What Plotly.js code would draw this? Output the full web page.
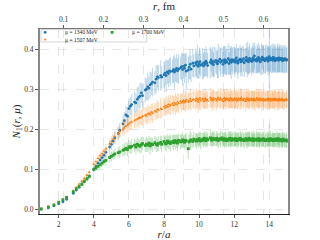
<!DOCTYPE html>
<html><head><meta charset="utf-8">
<script src="https://cdn.plot.ly/plotly-3.0.1.min.js"></script>
<style>html,body{margin:0;padding:0;background:#fff}#chart{width:320px;height:240px}</style>
</head><body><div id="chart"></div>
<script>
// r/a lattice distances
const rOverA = [
1.00,1.41,1.73,2.00,2.24,2.45,2.83,3.00,3.16,3.32,
3.46,3.61,3.74,4.00,4.12,4.24,4.36,4.47,4.58,4.69,
4.90,5.00,5.10,5.20,5.39,5.48,5.66,5.74,5.83,5.92,
6.00,6.08,6.16,6.32,6.40,6.48,6.56,6.63,6.71,6.78,
6.93,7.00,7.07,7.14,7.21,7.28,7.35,7.48,7.55,7.62,
7.68,7.81,7.87,8.00,8.06,8.12,8.19,8.25,8.31,8.37,
8.49,8.54,8.60,8.66,8.72,8.77,8.83,8.94,9.00,9.06,
9.11,9.17,9.22,9.27,9.38,9.43,9.49,9.54,9.64,9.70,
9.80,9.85,9.90,9.95,10.00,10.05,10.10,10.20,10.25,10.30,
10.34,10.39,10.44,10.49,10.63,10.68,10.72,10.77,10.82,10.86,
10.95,11.00,11.05,11.09,11.18,11.22,11.31,11.36,11.40,11.45,
11.49,11.53,11.58,11.66,11.70,11.75,11.79,11.83,11.87,11.92,
12.00,12.04,12.08,12.12,12.17,12.21,12.25,12.33,12.37,12.41,
12.45,12.53,12.57,12.65,12.69,12.73,12.77,12.81,12.85,12.88,
12.96,13.00,13.04,13.08,13.11,13.15,13.19,13.27,13.30,13.34,
13.38,13.42,13.45,13.49,13.56,13.60,13.64,13.67,13.75,13.78,
13.86,13.89,13.93,13.96,14.00,14.04,14.07,14.14,14.18,14.21,
14.25,14.28,14.32,14.35,14.42,14.46,14.49,14.53,14.56,14.59,
14.63,14.70,14.73,14.76,14.80,14.87,14.90,14.97,15.00];

const n1Mu1340 = [
0.002,0.005,0.010,0.015,0.020,0.026,0.041,0.049,0.056,0.063,
0.070,0.077,0.084,0.100,0.108,0.116,0.124,0.130,0.136,0.143,
0.156,0.163,0.171,0.179,0.190,0.198,0.214,0.222,0.236,0.233,
0.252,0.258,0.262,0.268,0.266,0.275,0.280,0.283,0.291,0.284,
0.298,0.300,0.306,0.303,0.311,0.314,0.318,0.316,0.325,0.331,
0.329,0.334,0.330,0.336,0.340,0.334,0.343,0.339,0.346,0.344,
0.345,0.349,0.343,0.348,0.352,0.346,0.350,0.353,0.356,0.349,
0.357,0.352,0.360,0.345,0.348,0.355,0.362,0.350,0.365,0.358,
0.366,0.361,0.368,0.357,0.363,0.369,0.360,0.364,0.358,0.366,
0.362,0.370,0.365,0.359,0.367,0.373,0.364,0.369,0.361,0.368,
0.372,0.366,0.363,0.370,0.375,0.367,0.371,0.362,0.369,0.374,
0.366,0.371,0.368,0.376,0.364,0.372,0.369,0.367,0.374,0.370,
0.373,0.367,0.371,0.378,0.369,0.365,0.372,0.375,0.368,0.373,
0.370,0.376,0.366,0.372,0.379,0.371,0.374,0.368,0.373,0.377,
0.371,0.369,0.375,0.378,0.372,0.383,0.374,0.370,0.376,0.373,
0.379,0.372,0.376,0.368,0.374,0.380,0.373,0.377,0.371,0.375,
0.378,0.374,0.370,0.376,0.381,0.373,0.377,0.375,0.372,0.379,
0.374,0.378,0.371,0.376,0.373,0.377,0.375,0.372,0.378,0.374,
0.376,0.373,0.377,0.371,0.375,0.373,0.376,0.372,0.374];
const err1340 = [
0.001,0.001,0.002,0.002,0.002,0.003,0.003,0.004,0.004,0.005,
0.005,0.006,0.006,0.007,0.008,0.008,0.009,0.010,0.011,0.012,
0.013,0.014,0.015,0.016,0.017,0.018,0.020,0.021,0.022,0.023,
0.025,0.022,0.026,0.028,0.024,0.030,0.027,0.032,0.026,0.029,
0.031,0.027,0.035,0.029,0.033,0.028,0.036,0.030,0.034,0.029,
0.032,0.038,0.028,0.033,0.030,0.041,0.029,0.034,0.031,0.036,
0.030,0.033,0.044,0.029,0.035,0.031,0.037,0.028,0.034,0.040,
0.031,0.036,0.029,0.045,0.033,0.030,0.038,0.032,0.035,0.029,
0.034,0.031,0.042,0.030,0.036,0.033,0.029,0.039,0.032,0.035,
0.030,0.037,0.033,0.031,0.040,0.029,0.034,0.036,0.031,0.038,
0.032,0.029,0.035,0.043,0.030,0.036,0.033,0.031,0.039,0.034,
0.030,0.036,0.032,0.038,0.029,0.035,0.033,0.041,0.030,0.034,
0.032,0.037,0.030,0.035,0.033,0.039,0.031,0.034,0.036,0.030,
0.038,0.032,0.035,0.030,0.036,0.033,0.045,0.031,0.034,0.037,
0.030,0.035,0.032,0.038,0.031,0.033,0.034,0.030,0.036,0.033,
0.037,0.031,0.034,0.032,0.039,0.030,0.035,0.033,0.031,0.036,
0.034,0.030,0.037,0.032,0.080,0.031,0.033,0.036,0.030,0.034,
0.032,0.035,0.030,0.034,0.031,0.036,0.033,0.030,0.035,0.032,
0.034,0.031,0.033,0.030,0.035,0.032,0.034,0.031,0.033];

const n1Mu1507 = [
0.003,0.007,0.013,0.019,0.025,0.031,0.047,0.056,0.064,0.071,
0.078,0.086,0.093,0.113,0.120,0.128,0.135,0.140,0.146,0.152,
0.164,0.170,0.176,0.182,0.190,0.195,0.200,0.204,0.208,0.211,
0.214,0.217,0.219,0.222,0.224,0.226,0.228,0.230,0.229,0.233,
0.236,0.234,0.238,0.240,0.237,0.243,0.241,0.246,0.244,0.250,
0.248,0.252,0.250,0.257,0.254,0.259,0.256,0.262,0.258,0.261,
0.264,0.260,0.266,0.263,0.262,0.268,0.265,0.270,0.266,0.269,
0.272,0.267,0.270,0.274,0.268,0.271,0.276,0.270,0.273,0.275,
0.271,0.277,0.273,0.269,0.275,0.278,0.272,0.276,0.274,0.270,
0.277,0.273,0.275,0.271,0.279,0.274,0.276,0.272,0.278,0.274,
0.276,0.271,0.275,0.279,0.273,0.277,0.274,0.270,0.276,0.278,
0.272,0.275,0.277,0.273,0.276,0.271,0.278,0.274,0.276,0.272,
0.275,0.278,0.273,0.276,0.271,0.274,0.277,0.273,0.276,0.279,
0.274,0.272,0.276,0.270,0.275,0.278,0.273,0.276,0.271,0.274,
0.277,0.273,0.275,0.272,0.276,0.274,0.271,0.275,0.278,0.273,
0.276,0.272,0.274,0.277,0.273,0.275,0.271,0.276,0.274,0.272,
0.275,0.273,0.277,0.272,0.274,0.276,0.271,0.275,0.273,0.276,
0.272,0.275,0.273,0.277,0.274,0.271,0.275,0.273,0.276,0.272,
0.274,0.276,0.272,0.275,0.273,0.271,0.274,0.276,0.273];
const err1507 = [
0.001,0.001,0.002,0.002,0.003,0.003,0.004,0.004,0.005,0.005,
0.006,0.006,0.007,0.008,0.008,0.009,0.010,0.010,0.011,0.012,
0.012,0.013,0.014,0.014,0.015,0.016,0.017,0.017,0.018,0.018,
0.019,0.017,0.020,0.018,0.021,0.019,0.022,0.018,0.020,0.023,
0.019,0.021,0.024,0.018,0.022,0.020,0.025,0.019,0.021,0.023,
0.020,0.026,0.019,0.022,0.021,0.024,0.019,0.023,0.020,0.025,
0.021,0.023,0.019,0.027,0.020,0.022,0.024,0.019,0.022,0.021,
0.024,0.020,0.026,0.021,0.023,0.019,0.025,0.022,0.020,0.024,
0.021,0.023,0.020,0.028,0.022,0.019,0.024,0.021,0.023,0.020,
0.025,0.021,0.022,0.019,0.024,0.020,0.023,0.026,0.021,0.022,
0.020,0.024,0.021,0.023,0.019,0.025,0.022,0.020,0.024,0.021,
0.023,0.019,0.025,0.021,0.022,0.020,0.024,0.021,0.023,0.020,
0.022,0.025,0.020,0.023,0.021,0.024,0.019,0.022,0.026,0.021,
0.023,0.020,0.022,0.025,0.021,0.023,0.020,0.024,0.021,0.022,
0.020,0.024,0.021,0.023,0.019,0.022,0.025,0.020,0.023,0.021,
0.024,0.020,0.022,0.021,0.025,0.019,0.023,0.021,0.022,0.020,
0.022,0.024,0.020,0.023,0.021,0.022,0.019,0.024,0.021,0.023,
0.020,0.022,0.024,0.021,0.019,0.023,0.021,0.025,0.020,0.022,
0.021,0.023,0.020,0.022,0.024,0.021,0.019,0.022,0.020];

const n1Mu1700 = [
0.002,0.007,0.012,0.019,0.025,0.031,0.045,0.052,0.058,0.064,
0.071,0.077,0.083,0.101,0.104,0.108,0.112,0.116,0.120,0.123,
0.130,0.133,0.136,0.139,0.142,0.144,0.148,0.150,0.153,0.150,
0.157,0.155,0.158,0.161,0.156,0.163,0.160,0.158,0.162,0.165,
0.160,0.163,0.161,0.166,0.159,0.164,0.162,0.167,0.163,0.161,
0.165,0.168,0.163,0.170,0.166,0.164,0.171,0.167,0.169,0.165,
0.170,0.167,0.172,0.168,0.171,0.166,0.173,0.169,0.171,0.174,
0.170,0.168,0.173,0.171,0.152,0.169,0.172,0.174,0.170,0.176,
0.173,0.171,0.175,0.172,0.177,0.174,0.171,0.176,0.173,0.178,
0.175,0.172,0.177,0.174,0.179,0.176,0.173,0.178,0.175,0.177,
0.174,0.178,0.175,0.172,0.177,0.175,0.179,0.174,0.176,0.173,
0.177,0.175,0.172,0.176,0.174,0.178,0.175,0.173,0.177,0.174,
0.176,0.173,0.177,0.175,0.172,0.176,0.174,0.178,0.175,0.173,
0.176,0.174,0.172,0.177,0.175,0.173,0.176,0.174,0.178,0.175,
0.173,0.176,0.174,0.177,0.172,0.175,0.174,0.176,0.173,0.175,
0.177,0.174,0.172,0.176,0.174,0.175,0.173,0.177,0.174,0.172,
0.175,0.173,0.176,0.174,0.172,0.175,0.177,0.173,0.175,0.174,
0.172,0.176,0.174,0.173,0.175,0.177,0.172,0.174,0.176,0.173,
0.175,0.173,0.171,0.174,0.176,0.173,0.172,0.174,0.171];
const err1700 = [
0.001,0.001,0.002,0.002,0.002,0.003,0.003,0.004,0.004,0.005,
0.005,0.006,0.006,0.007,0.008,0.009,0.010,0.010,0.011,0.012,
0.012,0.013,0.013,0.014,0.014,0.015,0.015,0.016,0.016,0.017,
0.017,0.015,0.018,0.016,0.019,0.017,0.016,0.018,0.020,0.017,
0.016,0.019,0.017,0.018,0.021,0.016,0.018,0.017,0.019,0.016,
0.018,0.017,0.020,0.016,0.018,0.019,0.017,0.016,0.018,0.020,
0.017,0.019,0.016,0.018,0.017,0.020,0.016,0.018,0.017,0.019,
0.016,0.018,0.017,0.019,0.025,0.017,0.024,0.018,0.016,0.019,
0.017,0.020,0.016,0.018,0.017,0.019,0.021,0.016,0.018,0.017,
0.019,0.016,0.018,0.017,0.020,0.016,0.018,0.019,0.017,0.018,
0.016,0.019,0.017,0.018,0.016,0.020,0.017,0.018,0.016,0.019,
0.017,0.018,0.016,0.019,0.017,0.018,0.020,0.016,0.018,0.017,
0.019,0.016,0.018,0.017,0.019,0.016,0.018,0.017,0.020,0.016,
0.018,0.017,0.019,0.016,0.018,0.020,0.017,0.018,0.016,0.019,
0.017,0.018,0.016,0.019,0.017,0.018,0.016,0.020,0.017,0.018,
0.016,0.019,0.017,0.018,0.016,0.019,0.017,0.018,0.020,0.016,
0.018,0.017,0.019,0.016,0.040,0.017,0.019,0.016,0.018,0.017,
0.019,0.016,0.018,0.017,0.019,0.016,0.018,0.017,0.016,0.019,
0.017,0.018,0.016,0.019,0.017,0.018,0.016,0.019,0.017];

const seriesNames = ['μ = 1340 MeV', 'μ = 1507 MeV', 'μ = 1700 MeV'];
const latticeSpacingFm = 0.0439;
const xTicks = [2, 4, 6, 8, 10, 12, 14];
const fmTicks = [0.1, 0.2, 0.3, 0.4, 0.5, 0.6];
const yTicks = [0.0, 0.1, 0.2, 0.3, 0.4];

const serif = '"Liberation Serif", "DejaVu Serif", serif';

function series(y, err, name, color, errColor, symbol, legendId) {
  return {
    type: 'scatter', mode: 'markers', x: rOverA, y: y, name: name,
    xaxis: 'x', yaxis: 'y', legend: legendId,
    marker: {color: color, size: 2.8, symbol: symbol, line: {width: 0}},
    error_y: {type: 'data', array: err, visible: true, color: errColor, thickness: 1.1, width: 0},
    hoverinfo: 'skip'
  };
}

const traces = [
  series(n1Mu1340, err1340, seriesNames[0], '#1f77b4', 'rgba(31,119,180,0.28)', 'circle', 'legend'),
  series(n1Mu1507, err1507, seriesNames[1], '#ff7f0e', 'rgba(255,127,14,0.28)', 'triangle-up', 'legend3'),
  series(n1Mu1700, err1700, seriesNames[2], '#2ca02c', 'rgba(44,160,44,0.28)', 'square', 'legend2'),
  {type: 'scatter', mode: 'none', x: rOverA.map(r => r * latticeSpacingFm), y: n1Mu1340,
   xaxis: 'x2', yaxis: 'y', showlegend: false, hoverinfo: 'skip'}
];

const tickCommon = {ticks: 'outside', ticklen: 3, tickwidth: 0.8, tickcolor: '#333',
  showgrid: true, gridcolor: '#dcdcdc', griddash: 'dash', gridwidth: 0.7, zeroline: false,
  tickfont: {size: 7.5, color: '#333', family: serif}};

const legendCommon = {xanchor: 'left', yanchor: 'middle', bgcolor: 'rgba(0,0,0,0)', borderwidth: 0,
  font: {size: 5.5, family: serif, color: '#222'}, itemwidth: 30, orientation: 'v'};

const layout = {
  width: 320, height: 240,
  margin: {l: 40, r: 32, t: 29, b: 26, pad: 0},
  paper_bgcolor: '#fff', plot_bgcolor: '#fff',
  font: {family: serif, size: 8, color: '#222'},
  showlegend: true,
  xaxis: Object.assign({}, tickCommon, {
    range: [0.934, 15.066], tickvals: xTicks, showline: true, linecolor: '#222', linewidth: 1.2,
    title: {text: '<i>r</i>/<i>a</i>', font: {size: 11, family: serif, color: '#222'}, standoff: 3}
  }),
  xaxis2: Object.assign({}, tickCommon, {
    overlaying: 'x', side: 'top', anchor: 'y',
    range: [0.934 * latticeSpacingFm, 15.066 * latticeSpacingFm], tickvals: fmTicks, tickformat: '.1f',
    showline: true, linecolor: '#777', linewidth: 1.5,
    title: {text: '<i>r</i>, fm', font: {size: 11, family: serif, color: '#222'}, standoff: 3}
  }),
  yaxis: Object.assign({}, tickCommon, {
    range: [-0.0105, 0.45], tickvals: yTicks, tickformat: '.1f',
    showline: true, mirror: true, linecolor: '#888', linewidth: 2,
    title: {text: '<i>N</i><sub>1</sub>(<i>r</i>, <i>μ</i>)', font: {size: 11, family: serif, color: '#222'}, standoff: 0}
  }),
  legend: Object.assign({}, legendCommon, {x: -0.06, y: 0.982}),
  legend3: Object.assign({}, legendCommon, {x: -0.06, y: 0.943}),
  legend2: Object.assign({}, legendCommon, {x: 0.21, y: 0.982}),
  shapes: [{type: 'rect', xref: 'paper', yref: 'paper', x0: 0.004, x1: 0.43, y0: 0.93, y1: 0.997,
    line: {color: '#cccccc', width: 0.8}, fillcolor: 'rgba(255,255,255,0.9)', layer: 'between'}]
};

Plotly.newPlot('chart', traces, layout, {displayModeBar: false, staticPlot: true});
</script>
</body></html>
